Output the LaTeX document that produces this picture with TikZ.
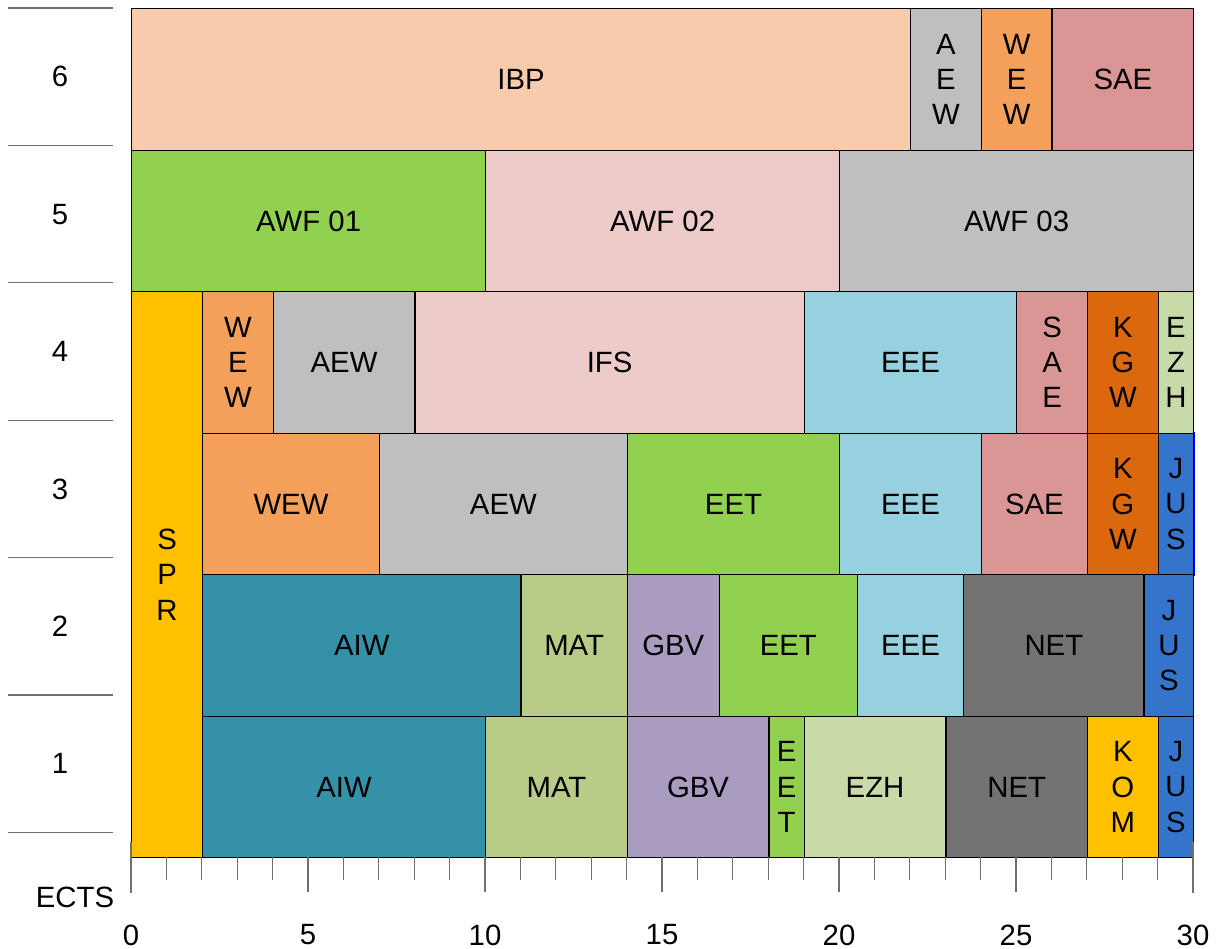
\documentclass[tikz,border=0pt]{standalone}
\usepackage{fontspec}
\setmainfont{Liberation Sans}
\definecolor{cIBP}{HTML}{F8CBAD}
\definecolor{cAEW}{HTML}{BFBFBF}
\definecolor{cWEW}{HTML}{F4A05A}
\definecolor{cSAE}{HTML}{DA9694}
\definecolor{cEET}{HTML}{92D050}
\definecolor{cIFS}{HTML}{ECCBC8}
\definecolor{cSPR}{HTML}{FFC000}
\definecolor{cEEE}{HTML}{97D0DE}
\definecolor{cKGW}{HTML}{DB680D}
\definecolor{cEZH}{HTML}{C9DAA9}
\definecolor{cJUS}{HTML}{3475CB}
\definecolor{cAIW}{HTML}{3491A8}
\definecolor{cMAT}{HTML}{B8CC87}
\definecolor{cGBV}{HTML}{AA9BC0}
\definecolor{cNET}{HTML}{737373}
\definecolor{cAxis}{HTML}{707070}
% name, x1, x2, top row, bottom row, colour, text
\newcommand\blk[7]{\node[blk, fill=#6, minimum width={(#3-#2)*26.55pt}, minimum height={(#4-#5+1)*106.125pt}] (#1) at ({131+35.4*#2},{857-141.5*#4}) {#7};}
\begin{document}
\begin{tikzpicture}[x=0.75pt,y=-0.75pt,
  lab/.style={font=\fontsize{22}{26.5}\selectfont},
  blk/.style={lab, draw=black, line width=1pt, inner sep=0pt, anchor=north west, align=center},
  rowline/.style={draw=cAxis, line width=0.9pt},
  tick/.style={draw=cAxis, line width=0.9pt}]
\useasboundingbox (0,0) rectangle (1225,949);
% row labels
\foreach \i in {0,...,6} \draw[rowline] (8,{8+137.4*\i}) -- (113,{8+137.4*\i});
\foreach \k in {1,...,6} \node[lab] (sem\k) at (60,{8+137.4*(6-\k)+68.7}) {\k};
% row 3 JUS first (blue border)
\blk{jus3}{29}{30}{3}{3}{cJUS}{J\\U\\S}
\path (jus3.north west) coordinate (a) (jus3.south east) coordinate (b);
\draw[blue, line width=1pt] (a) rectangle (b);
% row 6
\blk{ibp}{0}{22}{6}{6}{cIBP}{IBP}
\blk{aew6}{22}{24}{6}{6}{cAEW}{A\\E\\W}
\blk{wew6}{24}{26}{6}{6}{cWEW}{W\\E\\W}
\blk{sae6}{26}{30}{6}{6}{cSAE}{SAE}
% row 5
\blk{awf1}{0}{10}{5}{5}{cEET}{AWF 01}
\blk{awf2}{10}{20}{5}{5}{cIFS}{AWF 02}
\blk{awf3}{20}{30}{5}{5}{cAEW}{AWF 03}
% SPR
\blk{spr}{0}{2}{4}{1}{cSPR}{S\\P\\R}
% row 4
\blk{wew4}{2}{4}{4}{4}{cWEW}{W\\E\\W}
\blk{aew4}{4}{8}{4}{4}{cAEW}{AEW}
\blk{ifs}{8}{19}{4}{4}{cIFS}{IFS}
\blk{eee4}{19}{25}{4}{4}{cEEE}{EEE}
\blk{sae4}{25}{27}{4}{4}{cSAE}{S\\A\\E}
\blk{kgw4}{27}{29}{4}{4}{cKGW}{K\\G\\W}
\blk{ezh4}{29}{30}{4}{4}{cEZH}{E\\Z\\H}
% row 3
\blk{wew3}{2}{7}{3}{3}{cWEW}{WEW}
\blk{aew3}{7}{14}{3}{3}{cAEW}{AEW}
\blk{eet3}{14}{20}{3}{3}{cEET}{EET}
\blk{eee3}{20}{24}{3}{3}{cEEE}{EEE}
\blk{sae3}{24}{27}{3}{3}{cSAE}{SAE}
\blk{kgw3}{27}{29}{3}{3}{cKGW}{K\\G\\W}
% row 2
\blk{aiw2}{2}{11}{2}{2}{cAIW}{AIW}
\blk{mat2}{11}{14}{2}{2}{cMAT}{MAT}
\blk{gbv2}{14}{16.6}{2}{2}{cGBV}{GBV}
\blk{eet2}{16.6}{20.5}{2}{2}{cEET}{EET}
\blk{eee2}{20.5}{23.5}{2}{2}{cEEE}{EEE}
\blk{net2}{23.5}{28.6}{2}{2}{cNET}{NET}
\blk{jus2}{28.6}{30}{2}{2}{cJUS}{J\\U\\S}
% row 1
\blk{aiw1}{2}{10}{1}{1}{cAIW}{AIW}
\blk{mat1}{10}{14}{1}{1}{cMAT}{MAT}
\blk{gbv1}{14}{18}{1}{1}{cGBV}{GBV}
\blk{eet1}{18}{19}{1}{1}{cEET}{E\\E\\T}
\blk{ezh1}{19}{23}{1}{1}{cEZH}{EZH}
\blk{net1}{23}{27}{1}{1}{cNET}{NET}
\blk{kom}{27}{29}{1}{1}{cSPR}{K\\O\\M}
\blk{jus1}{29}{30}{1}{1}{cJUS}{J\\U\\S}
% axis ticks
\foreach \i in {1,2,3,4,6,7,8,9,11,12,13,14,16,17,18,19,21,22,23,24,26,27,28,29}
  \draw[tick] ({131+35.4*\i},857) -- ({131+35.4*\i},880);
\foreach \i in {5,10,15,20,25}
  \draw[tick] ({131+35.4*\i},857) -- ({131+35.4*\i},892);
\foreach \i in {0,30}
  \draw[tick] ({131+35.4*\i},842) -- ({131+35.4*\i},893);
\foreach \i in {0,5,...,30}
  \node[lab] (num\i) at ({131+35.4*\i},935) {\i};
\node[lab] (ects) at (75,897) {ECTS};
\end{tikzpicture}
\end{document}
